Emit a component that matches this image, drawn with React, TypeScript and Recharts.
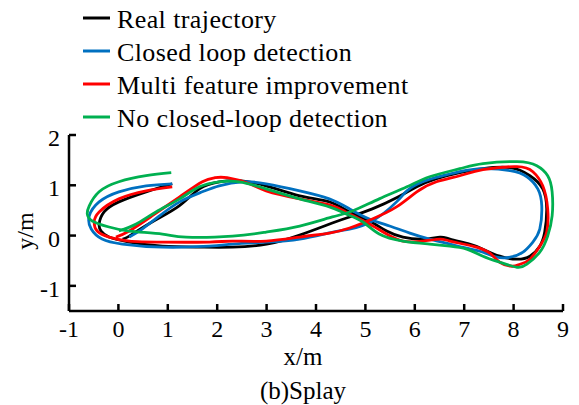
import { LineChart, Line, XAxis, YAxis, Legend } from 'recharts'

const FONT = 'Liberation Serif, Times New Roman, serif'

const X_TICKS = [-1, 0, 1, 2, 3, 4, 5, 6, 7, 8, 9]
const Y_TICKS = [-1, 0, 1, 2]

// trajectories as [x, y] in metres, in driving order
const REAL: [number, number][] = [
  [1.09, 1.03], [0.56, 0.87], [0.01, 0.67], [-0.29, 0.47], [-0.39, 0.23], [-0.35, 0.09],
  [-0.19, -0.03], [0.22, -0.13], [0.89, -0.21], [1.64, -0.23], [2.31, -0.23], [3.0, -0.17],
  [3.67, 0.01], [4.33, 0.25], [4.68, 0.37], [5.14, 0.53], [5.63, 0.75], [6.04, 0.97],
  [6.44, 1.13], [6.91, 1.25], [7.38, 1.33], [7.93, 1.35], [8.33, 1.19], [8.59, 0.93],
  [8.67, 0.53], [8.63, 0.07], [8.53, -0.21], [8.33, -0.41], [8.07, -0.47], [7.72, -0.41],
  [7.38, -0.27], [7.11, -0.17], [6.71, -0.07], [6.51, -0.03], [6.16, -0.07], [5.76, -0.03],
  [5.43, 0.09], [5.08, 0.29], [4.68, 0.47], [4.27, 0.67], [3.67, 0.79], [2.99, 0.99],
  [2.45, 1.09], [2.04, 1.07], [1.64, 0.93], [1.23, 0.59], [0.68, 0.27], [0.22, -0.01], [0.08, -0.07],
]

const CLOSED_LOOP: [number, number][] = [
  [1.09, 1.03], [0.56, 0.99], [0.01, 0.87], [-0.39, 0.67], [-0.59, 0.39], [-0.55, 0.13],
  [-0.33, -0.07], [0.08, -0.17], [0.89, -0.23], [1.84, -0.21], [2.31, -0.17], [2.99, -0.13],
  [3.67, -0.07], [4.3, 0.06], [4.68, 0.13], [5.14, 0.29], [5.63, 0.67], [5.84, 0.89],
  [6.16, 1.07], [6.57, 1.19], [6.91, 1.27], [7.38, 1.33], [7.93, 1.29], [8.27, 1.17],
  [8.49, 0.93], [8.57, 0.59], [8.53, 0.13], [8.39, -0.13], [8.19, -0.33], [7.93, -0.43],
  [7.66, -0.43], [7.38, -0.33], [7.05, -0.25], [6.71, -0.17], [6.3, -0.07], [5.9, 0.05],
  [5.49, 0.19], [5.08, 0.33], [4.68, 0.53], [4.27, 0.73], [3.67, 0.89], [2.99, 1.03],
  [2.51, 1.07], [2.04, 0.99], [1.7, 0.87], [1.24, 0.67], [0.83, 0.39], [0.48, 0.13], [0.22, -0.03],
]

const MULTI_FEATURE: [number, number][] = [
  [1.09, 0.97], [0.56, 0.89], [0.01, 0.73], [-0.39, 0.47], [-0.49, 0.27], [-0.43, 0.09],
  [-0.19, -0.03], [0.22, -0.11], [0.89, -0.13], [1.84, -0.13], [2.31, -0.11], [2.99, -0.11],
  [3.67, -0.03], [4.27, 0.05], [4.68, 0.15], [5.14, 0.33], [5.63, 0.57], [6.04, 0.87],
  [6.44, 1.07], [6.91, 1.19], [7.38, 1.31], [8.07, 1.37], [8.39, 1.27], [8.59, 0.99],
  [8.69, 0.53], [8.67, 0.07], [8.53, -0.21], [8.33, -0.47], [8.13, -0.57], [7.97, -0.61],
  [7.72, -0.53], [7.52, -0.35], [7.17, -0.21], [6.71, -0.11], [6.51, -0.07], [6.16, -0.11],
  [5.76, -0.11], [5.43, 0.03], [5.08, 0.23], [4.68, 0.43], [4.3, 0.6], [3.67, 0.73],
  [2.99, 0.89], [2.65, 1.03], [2.2, 1.15], [1.95, 1.15], [1.7, 1.07], [1.24, 0.77],
  [0.68, 0.39], [0.22, 0.09], [-0.05, -0.03],
]

const NO_CLOSED_LOOP: [number, number][] = [
  [1.07, 1.25], [0.56, 1.19], [0.01, 1.07], [-0.39, 0.87], [-0.59, 0.59], [-0.63, 0.43],
  [-0.53, 0.29], [-0.19, 0.17], [0.22, 0.09], [0.89, 0.03], [1.37, -0.03], [2.31, -0.01],
  [2.99, 0.07], [3.67, 0.19], [4.33, 0.37], [4.74, 0.49], [5.28, 0.73], [5.84, 0.97],
  [6.3, 1.17], [6.91, 1.33], [7.38, 1.43], [8.07, 1.47], [8.47, 1.39], [8.69, 1.19],
  [8.78, 0.87], [8.78, 0.39], [8.69, -0.01], [8.53, -0.33], [8.27, -0.57], [8.07, -0.63],
  [7.72, -0.53], [7.38, -0.41], [7.05, -0.27], [6.71, -0.21], [6.3, -0.17], [5.76, -0.11],
  [5.28, 0.03], [4.95, 0.27], [4.61, 0.43], [4.27, 0.57], [3.67, 0.73], [2.99, 0.93],
  [2.45, 1.07], [2.04, 1.07], [1.64, 0.97], [1.24, 0.73], [0.76, 0.47], [0.36, 0.23], [0.01, 0.09],
]

const SERIES = [
  { name: 'Real trajectory', color: '#000000', points: REAL },
  { name: 'Closed loop detection', color: '#0070C0', points: CLOSED_LOOP },
  { name: 'Multi feature improvement', color: '#FF0000', points: MULTI_FEATURE },
  { name: 'No closed-loop detection', color: '#00B050', points: NO_CLOSED_LOOP },
]

const toRows = (pts: [number, number][]) => pts.map(([x, y]) => ({ x, y }))

const txt = (size: number) => ({ fontFamily: FONT, fontSize: size, fill: '#000' })

function XTick({ x, y, payload }: any) {
  return (
    <text x={x} y={y + 26} textAnchor="middle" style={txt(24)}>
      {payload.value}
    </text>
  )
}

function YTick({ x, y, payload }: any) {
  return (
    <text x={x - 9} y={y + 11} textAnchor="end" style={txt(24)}>
      {payload.value}
    </text>
  )
}

function LegendBox() {
  return (
    <svg width={440} height={140} style={{ display: 'block' }}>
      {SERIES.map((s, i) => {
        const base = 28 + i * 33
        return (
          <g key={s.name}>
            <line x1={83} x2={110} y1={base - 10} y2={base - 10} stroke={s.color} strokeWidth={3} />
            <text x={117} y={base} style={{ ...txt(26), letterSpacing: 0.4 }}>{s.name}</text>
          </g>
        )
      })}
    </svg>
  )
}

const axisStroke = { stroke: '#000', strokeWidth: 2.5 }

export default function App() {
  return (
    <div style={{ position: 'absolute', left: 0, top: 0, width: 579, height: 405, background: '#fff' }}>
      <LineChart width={579} height={405} margin={{ top: 135, right: 16, bottom: 64, left: 39 }}>
        <XAxis
          dataKey="x" type="number" domain={[-1, 9]} ticks={X_TICKS} allowDataOverflow
          height={30} axisLine={axisStroke} tickLine={axisStroke}
          tickSize={-7} tickMargin={7} tick={<XTick />} interval={0}
          label={{
            content: () => (
              <g textAnchor="middle">
                <text x={303} y={365} style={txt(25)}>x/m</text>
                <text x={303} y={399} style={txt(25)}>(b)Splay</text>
              </g>
            ),
          }}
        />
        <YAxis
          type="number" domain={[-1.5, 2]} ticks={Y_TICKS} allowDataOverflow
          width={30} axisLine={axisStroke} tickLine={axisStroke}
          tickSize={-7} tickMargin={7} tick={<YTick />} interval={0}
          label={{
            content: () => (
              <text transform="translate(33,231) rotate(-90)" textAnchor="middle" style={txt(24)}>
                y/m
              </text>
            ),
          }}
        />
        <Legend
          content={() => <LegendBox />}
          layout="vertical" align="center" verticalAlign="middle"
          wrapperStyle={{ position: 'absolute', top: 0, left: 0, width: 440, height: 140 }}
        />
        {SERIES.map((s) => (
          <Line
            key={s.name}
            name={s.name}
            data={toRows(s.points)}
            dataKey="y"
            type="natural"
            stroke={s.color}
            strokeWidth={2.8}
            dot={false}
            activeDot={false}
            isAnimationActive={false}
          />
        ))}
      </LineChart>
    </div>
  )
}
